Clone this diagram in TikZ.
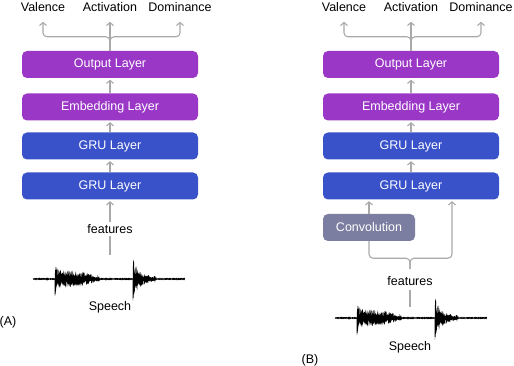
\documentclass[tikz,border=0pt]{standalone}
\usepackage{fontspec}
\setmainfont{Liberation Sans}
\usepackage{xcolor}
\usepackage{tikz}
\usetikzlibrary{calc, arrows.meta, positioning}

\definecolor{purpleL}{HTML}{9B37C6}
\definecolor{blueL}{HTML}{3A52C9}
\definecolor{convL}{HTML}{7B7EA0}
\definecolor{arrowL}{HTML}{A9A9A9}

\tikzset{
    speechwave/.pic={
        \pgfmathsetseed{4242}
        \draw[line width=0.45pt, samples=609, domain=0:152]
            plot (\x, {(0.5
                + (\x>=22)*(\x<=67)*(8*(1-((\x-22)/45)*((\x-22)/45)*((\x-22)/45)*((\x-22)/45)) + 10*exp(-max(\x-22,0)/2))
                + (\x>=100)*(\x<=124)*(10*(1-(\x-100)/24) + 12*exp(-max(\x-100,0)/3)))
                *cos(mod(round(\x*4),2)*180)*(0.25+0.75*rnd)});
    }
}

\begin{document}
\begin{tikzpicture}[x=1pt, y=-1pt,
    layer/.style={rounded corners=5pt, minimum width=176pt, minimum height=27pt,
        text=white, font=\fontsize{12.5}{14}\selectfont},
    lbl/.style={font=\fontsize{12.5}{14}\selectfont, text=black, inner sep=2pt},
    link/.style={draw=arrowL, line width=1.1pt},
    arr/.style={link, -{Straight Barb[length=3pt, width=7pt]}, shorten >=1.5pt}]
    \useasboundingbox (0,0) rectangle (514,366);

    % (A) cac lop mang
    \node[layer, fill=purpleL] (outA) at (110,64.5) {Output Layer};
    \node[layer, fill=purpleL] (embA) at (110,107) {Embedding Layer};
    \node[layer, fill=blueL] (gruA1) at (110,146) {GRU Layer};
    \node[layer, fill=blueL] (gruA2) at (110,186) {GRU Layer};

    % (A) dau ra
    \node[lbl] (valA) at (43,7) {Valence};
    \node[lbl] (actA) at (110,7) {Activation};
    \node[lbl] (domA) at (180,7) {Dominance};
    \draw[arr, shorten >=0pt, rounded corners=4pt] (outA.north) -- ++(0,-14) -| ([yshift=-8pt]valA.south);
    \draw[arr, shorten >=0pt, rounded corners=4pt] (outA.north) -- ++(0,-14) -| ([yshift=-8pt]domA.south);
    \draw[arr, shorten >=0pt] (outA.north) -- ([yshift=-8pt]actA.south);

    % (A) mui ten giua cac lop
    \draw[arr] (embA.north) -- (outA.south);
    \draw[arr] (gruA1.north) -- (embA.south);
    \draw[arr] (gruA2.north) -- (gruA1.south);

    % (A) dac trung va tieng noi
    \node[lbl] (featA) at (110,229) {features};
    \coordinate (wavA) at (110,255);
    \draw[link] (wavA) -- (featA.south);
    \draw[arr] (featA.north) -- (gruA2.south);
    \pic at (33,279) {speechwave};
    \node[lbl] (speechA) at (110,307) {Speech};
    \node[lbl] (tagA) at (8,322) {(A)};

    % (B) cac lop mang
    \node[layer, fill=purpleL] (outB) at (411,64.5) {Output Layer};
    \node[layer, fill=purpleL] (embB) at (411,107) {Embedding Layer};
    \node[layer, fill=blueL] (gruB1) at (411,146) {GRU Layer};
    \node[layer, fill=blueL] (gruB2) at (411,186) {GRU Layer};
    \node[layer, fill=convL, minimum width=92pt] (convB) at (369,227.5) {Convolution};

    % (B) dau ra
    \node[lbl] (valB) at (344,7) {Valence};
    \node[lbl] (actB) at (411,7) {Activation};
    \node[lbl] (domB) at (481,7) {Dominance};
    \draw[arr, shorten >=0pt, rounded corners=4pt] (outB.north) -- ++(0,-14) -| ([yshift=-8pt]valB.south);
    \draw[arr, shorten >=0pt, rounded corners=4pt] (outB.north) -- ++(0,-14) -| ([yshift=-8pt]domB.south);
    \draw[arr, shorten >=0pt] (outB.north) -- ([yshift=-8pt]actB.south);

    % (B) mui ten giua cac lop
    \draw[arr] (embB.north) -- (outB.south);
    \draw[arr] (gruB1.north) -- (embB.south);
    \draw[arr] (gruB2.north) -- (gruB1.south);
    \draw[arr] (convB.north) -- (convB.north |- gruB2.south);

    % (B) dac trung, nhanh ra hai duong
    \node[lbl] (featB) at (410,281) {features};
    \draw[link, rounded corners=4pt] ([yshift=5pt]featB.north) -- ++(0,-11) -| (convB.south);
    \draw[arr, rounded corners=4pt] ([yshift=5pt]featB.north) -- ++(0,-11) -| (452,0 |- gruB2.south);
    \coordinate (wavB) at (410,307);
    \draw[link, shorten <=2pt] (featB.south) -- (wavB);
    \pic at (335,318) {speechwave};
    \node[lbl] (speechB) at (410,347) {Speech};
    \node[lbl] (tagB) at (310,360) {(B)};
\end{tikzpicture}
\end{document}
